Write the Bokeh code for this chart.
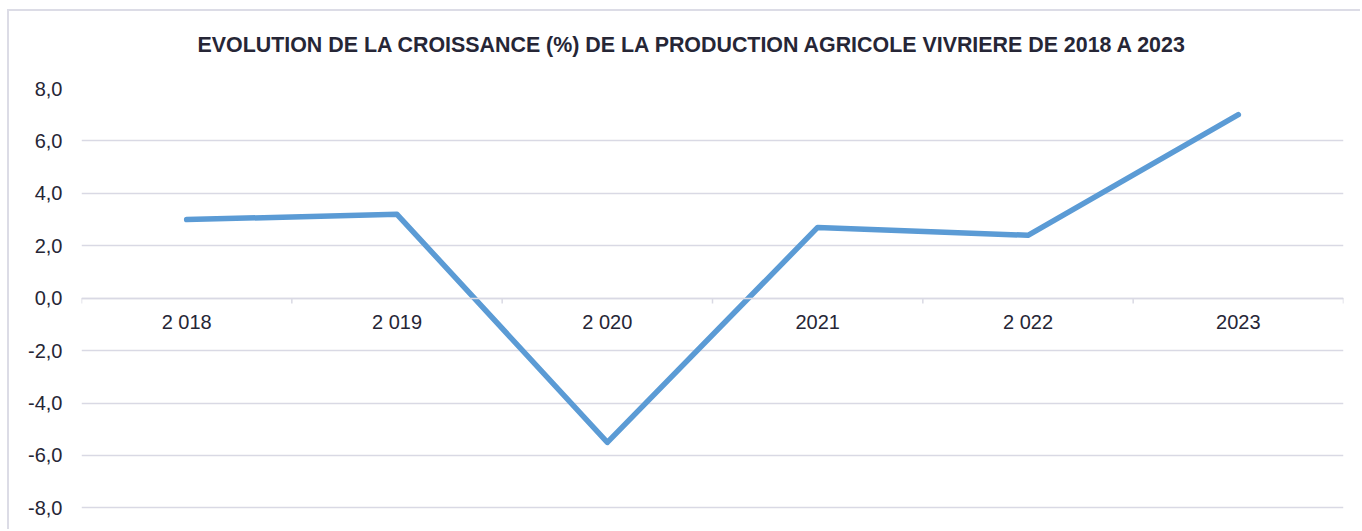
from bokeh.plotting import figure
from bokeh.models import Range1d, FixedTicker, CustomJSTickFormatter, CategoricalAxis, Title, ColumnDataSource
from bokeh.transform import dodge
from bokeh.embed import file_html
from bokeh.resources import INLINE

years = ["2 018", "2 019", "2 020", "2021", "2 022", "2023"]
growth = [3.0, 3.2, -5.5, 2.7, 2.4, 7.0]
y_ticks = [-8, -6, -4, -2, 0, 2, 4, 6, 8]
title_text = "EVOLUTION DE LA CROISSANCE (%) DE LA PRODUCTION AGRICOLE VIVRIERE DE 2018 A 2023"

TEXT = "#262636"
GRID = "#d9d9e4"
FONT = "Liberation Sans"

p = figure(x_range=years, y_range=Range1d(-8.06, 8), width=1353, height=520,
           output_backend="svg", toolbar_location=None, x_axis_location=None,
           min_border_left=72, min_border_right=19, min_border_bottom=22, min_border_top=77)
p.outline_line_color = None
p.xgrid.grid_line_color = None
p.ygrid.ticker = FixedTicker(ticks=y_ticks)
p.ygrid.grid_line_color = GRID
p.ygrid.grid_line_width = 1.5

p.yaxis.ticker = FixedTicker(ticks=y_ticks)
p.yaxis.formatter = CustomJSTickFormatter(code="return tick.toFixed(1).replace('.', ',');")
p.yaxis.axis_line_color = None
p.yaxis.major_tick_line_color = None
p.yaxis.minor_tick_line_color = None
p.yaxis.major_tick_out = 0
p.yaxis.major_label_standoff = 19
p.yaxis.major_label_text_font = FONT
p.yaxis.major_label_text_font_size = "20px"
p.yaxis.major_label_text_color = TEXT

xaxis = CategoricalAxis(fixed_location=0, axis_line_color=GRID, axis_line_width=1.5,
                        major_tick_line_color=None, minor_tick_line_color=None,
                        major_tick_out=0, major_tick_in=0, major_label_standoff=13,
                        major_label_text_font=FONT, major_label_text_font_size="20px",
                        major_label_text_color=TEXT)
p.add_layout(xaxis, "below")

# boundary tick marks between categories
bsrc = ColumnDataSource(dict(x=years, y0=[0] * len(years), y1=[-0.2] * len(years)))
p.segment(x0=dodge("x", -0.5, range=p.x_range), x1=dodge("x", -0.5, range=p.x_range),
          y0="y0", y1="y1", source=bsrc, line_color=GRID, line_width=1.5)
esrc = ColumnDataSource(dict(x=years[-1:], y0=[0], y1=[-0.2]))
p.segment(x0=dodge("x", 0.5, range=p.x_range), x1=dodge("x", 0.5, range=p.x_range),
          y0="y0", y1="y1", source=esrc, line_color=GRID, line_width=1.5)

p.line(years, growth, line_color="#5b9bd5", line_width=5.5, line_cap="round", line_join="round")

# invisible spacer between the frame and the title
spacer = Title(text=".", text_font_size="1px", standoff=29, text_color="white")
p.add_layout(spacer, "above")
t = Title(text=title_text, align="left", offset=116, text_font=FONT, text_font_size="21.4px",
          text_font_style="bold", text_color=TEXT, standoff=0)
p.add_layout(t, "above")

p.styles = {"border-top": "2px solid #dcdce6", "border-left": "2px solid #dcdce6",
            "margin-top": "9px", "margin-left": "7px"}

open("out.html", "w").write(file_html(p, INLINE))
